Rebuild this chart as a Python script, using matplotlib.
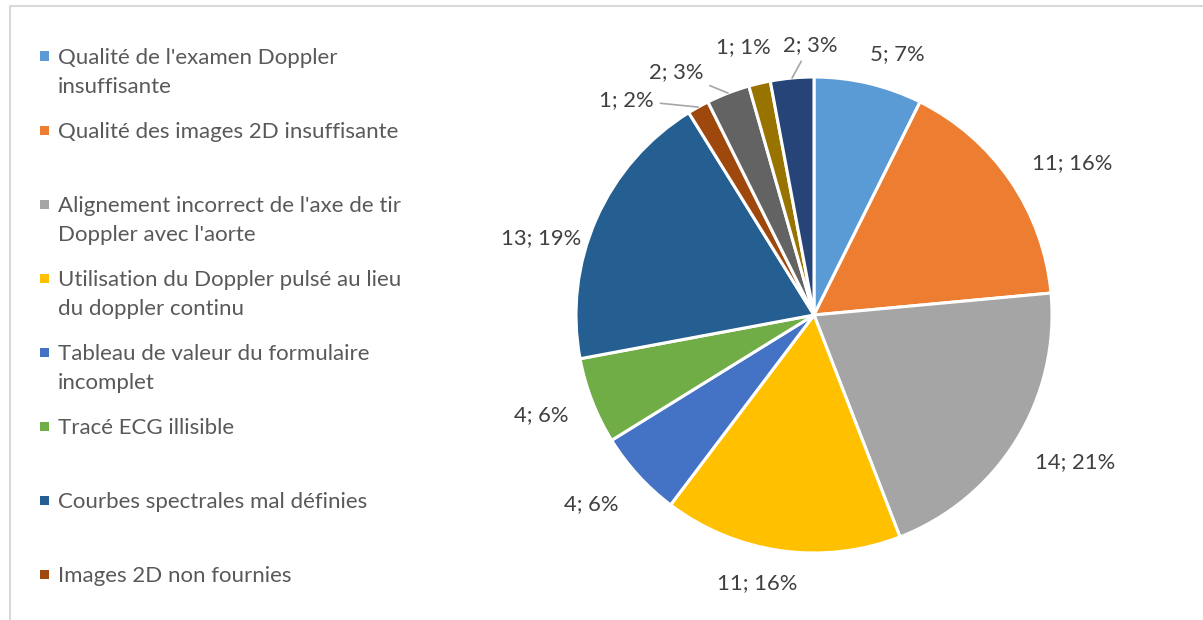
import numpy as np
import matplotlib
matplotlib.use("Agg")
import matplotlib.pyplot as plt
from matplotlib.lines import Line2D
from matplotlib.patches import Rectangle

plt.rcParams["font.family"] = ["Lato", "DejaVu Sans"]

categories = [
    "Qualité de l'examen Doppler\ninsuffisante",
    "Qualité des images 2D insuffisante",
    "Alignement incorrect de l'axe de tir\nDoppler avec l'aorte",
    "Utilisation du Doppler pulsé au lieu\ndu doppler continu",
    "Tableau de valeur du formulaire\nincomplet",
    "Tracé ECG illisible",
    "Courbes spectrales mal définies",
    "Images 2D non fournies",
    "Autre 1",
    "Autre 2",
    "Autre 3",
]
values = [5, 11, 14, 11, 4, 4, 13, 1, 2, 1, 2]
percents = [7, 16, 21, 16, 6, 6, 19, 2, 3, 1, 3]
colors = ["#5B9BD5", "#ED7D31", "#A5A5A5", "#FFC000", "#4472C4", "#70AD47",
          "#255E91", "#9E480E", "#636363", "#997300", "#264478"]
n_legend = 8  # legend is cut off after 8 entries

W, H = 1203, 620
fig = plt.figure(figsize=(W / 100, H / 100), dpi=100)

# pie axes: centre (814, 315) px, radius 238 px
cx, cy, r = 814, 315, 238
ax = fig.add_axes([420 / W, 0, (W - 420) / W, 1])

wedges, _ = ax.pie(values, colors=colors, startangle=90, counterclock=False,
                   radius=1.0, wedgeprops=dict(edgecolor="white", linewidth=2.2))
ax.set_aspect("auto")
ax.set_xlim((420 - cx) / r, (W - cx) / r)
ax.set_ylim(-(H - cy) / r, cy / r)
ax.axis("off")

# label placement (radius, angle shift in degrees, leader line)
label_pos = [(1.15, -4.5, False), (1.26, -4, False), (1.26, 2.5, False),
             (1.15, -4, False), (1.23, -2, False), (1.22, -1, False),
             (1.19, 8, False), (1.20, 12, True), (1.175, 8.4, True),
             (1.165, 1.6, False), (1.135, -4.5, True)]

for w, v, p, (rad, shift, leader) in zip(wedges, values, percents, label_pos):
    mid = np.deg2rad((w.theta1 + w.theta2) / 2)
    ang = mid + np.deg2rad(shift)
    tx, ty = rad * np.cos(ang), rad * np.sin(ang)
    txt = f"{v}; {p}%"
    if leader:
        ax.annotate(txt, xy=(np.cos(mid), np.sin(mid)), xytext=(tx, ty),
                    ha="center", va="center", fontsize=15.8, color="#404040",
                    arrowprops=dict(arrowstyle="-", color="#A6A6A6", lw=1.2,
                                    shrinkA=3, shrinkB=0))
    else:
        ax.text(tx, ty, txt, ha="center", va="center", fontsize=15.8,
                color="#404040")

# legend drawn manually, evenly spaced like the original
for i in range(n_legend):
    y = H - (56 + i * 74)
    fig.add_artist(Rectangle((40 / W, (y - 4.5) / H), 9 / W, 9 / H,
                             facecolor=colors[i], edgecolor="none",
                             transform=fig.transFigure))
    fig.text(58 / W, (y + 8) / H, categories[i], ha="left", va="top",
             fontsize=16, color="#595959", linespacing=1.55)

# chart area border (top and left edges visible)
fig.add_artist(Line2D([10 / W, 10 / W, 1], [0, 1 - 6 / H, 1 - 6 / H],
                      color="#D9D9D9", lw=1.5, transform=fig.transFigure))

fig.savefig("out.png", dpi=100)
